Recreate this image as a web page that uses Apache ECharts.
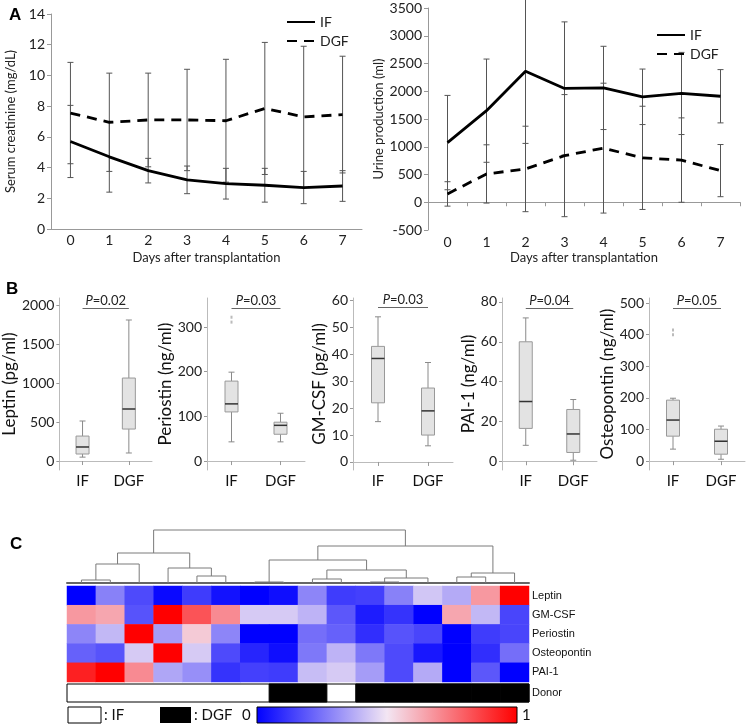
<!DOCTYPE html>
<html><head><meta charset="utf-8">
<script src="https://cdn.jsdelivr.net/npm/echarts@6/dist/echarts.min.js"></script>
<style>html,body{margin:0;padding:0;background:#fff}#c{width:748px;height:727px}</style>
</head><body><div id="c"></div>
<script>
// ---------- Panel A data ----------
const days = ['0','1','2','3','4','5','6','7'];
const creatIF = [5.7, 4.7, 3.8, 3.2, 2.95, 2.85, 2.7, 2.8];
const creatIFsd = [2.35, 2.3, 0.8, 0.9, 1.0, 1.1, 1.05, 1.0];
const creatDGF = [7.55, 6.95, 7.1, 7.1, 7.05, 7.85, 7.3, 7.45];
const creatDGFsd = [3.3, 3.2, 3.05, 3.3, 4.0, 4.3, 4.6, 3.8];
const urineIF = [1075, 1650, 2360, 2050, 2060, 1900, 1960, 1910];
const urineIFsd = [850, 930, 1300, 1200, 750, 500, 740, 480];
const urineDGF = [150, 510, 600, 840, 975, 800, 760, 570];
const urineDGFsd = [220, 525, 770, 1100, 1170, 930, 760, 470];

// ---------- Panel B data: [low whisker, Q1, median, Q3, high whisker] ----------
const bCats = ['IF', 'DGF'];
const leptinIF = [50, 90, 180, 320, 513];
const leptinDGF = [103, 410, 667, 1064, 1808];
const periostinIF = [43, 110, 128, 179, 199];
const periostinDGF = [43, 60, 80, 87, 107];
const periostinOutliers = [311, 322];
const gmcsfIF = [15, 22, 38.5, 43, 54];
const gmcsfDGF = [6, 10, 19, 27.5, 37];
const pai1IF = [8, 16.5, 30, 60, 72];
const pai1DGF = [0.5, 4.4, 13.7, 26, 31];
const osteoIF = [38, 79, 130, 193, 199];
const osteoDGF = [6, 22, 63, 101, 111];
const osteoOutliers = [400, 415];
const pValues = ['0.02', '0.03', '0.03', '0.04', '0.05'];
const leptinTicks = [0, 500, 1000, 1500, 2000];
const periostinTicks = [0, 100, 200, 300];
const gmcsfTicks = [0, 10, 20, 30, 40, 50, 60];
const pai1Ticks = [0, 20, 40, 60, 80];
const osteoTicks = [0, 100, 200, 300, 400, 500];

// ---------- Panel C data ----------
const sampleIds = ['S1','S2','S3','S4','S5','S6','S7','S8','S9','S10','S11','S12','S13','S14','S15','S16'];
const markers = ['Leptin', 'GM-CSF', 'Periostin', 'Osteopontin', 'PAI-1'];
const heatLeptin = [0.0, 0.28, 0.16, 0.02, 0.13, 0.04, 0.0, 0.03, 0.29, 0.13, 0.14, 0.28, 0.43, 0.37, 0.67, 1.0];
const heatGMCSF = [0.67, 0.64, 0.18, 1.0, 0.82, 0.70, 0.44, 0.44, 0.39, 0.19, 0.06, 0.11, 0.0, 0.64, 0.40, 0.15];
const heatPeriostin = [0.29, 0.40, 1.0, 0.34, 0.56, 0.29, 0.0, 0.0, 0.24, 0.21, 0.10, 0.18, 0.15, 0.0, 0.13, 0.15];
const heatOsteopontin = [0.21, 0.18, 0.44, 1.0, 0.44, 0.16, 0.08, 0.03, 0.26, 0.39, 0.26, 0.16, 0.05, 0.0, 0.10, 0.24];
const heatPAI1 = [0.93, 1.0, 0.70, 0.36, 0.31, 0.11, 0.14, 0.13, 0.41, 0.44, 0.34, 0.16, 0.37, 0.0, 0.19, 0.0];
const donorGroup = ['IF','IF','IF','IF','IF','IF','IF','DGF','DGF','IF','DGF','DGF','DGF','DGF','DGF','DGF'];
// dendrogram merges: [left node, right node, height]; leaves 0..15, clusters 16+
const dendroMerges = [
  [0, 1, 3], [16, 2, 19], [4, 5, 7], [3, 18, 15], [17, 19, 30],
  [6, 7, 1], [10, 11, 1], [8, 9, 4], [22, 12, 5], [23, 24, 13],
  [21, 25, 23], [13, 14, 6], [27, 15, 10], [26, 28, 37], [20, 29, 53]
];

const FONT = 'Lato, "Liberation Sans", sans-serif';
const heatColors = ['#0000ff', '#f3e6f3', '#ff0000'];
const plainNum = v => String(v);

function errRender(params, api) {
  const x = api.value(0), m = api.value(1), s = api.value(2);
  const top = api.coord([x, m + s]), bot = api.coord([x, m - s]);
  const cw = 3, st = {stroke: '#555', lineWidth: 1};
  return {type: 'group', children: [
    {type: 'line', shape: {x1: top[0], y1: top[1], x2: bot[0], y2: bot[1]}, style: st},
    {type: 'line', shape: {x1: top[0] - cw, y1: top[1], x2: top[0] + cw, y2: top[1]}, style: st},
    {type: 'line', shape: {x1: bot[0] - cw, y1: bot[1], x2: bot[0] + cw, y2: bot[1]}, style: st}
  ]};
}
function boxRender(params, api) {
  const x = api.value(0);
  const lo = api.coord([x, api.value(1)]), q1 = api.coord([x, api.value(2)]);
  const md = api.coord([x, api.value(3)]), q3 = api.coord([x, api.value(4)]);
  const hi = api.coord([x, api.value(5)]);
  const cx = lo[0], w = 13, cw = 3;
  const ws = {stroke: '#8a8a8a', lineWidth: 1};
  return {type: 'group', children: [
    {type: 'line', shape: {x1: cx, y1: hi[1], x2: cx, y2: q3[1]}, style: ws},
    {type: 'line', shape: {x1: cx, y1: q1[1], x2: cx, y2: lo[1]}, style: ws},
    {type: 'line', shape: {x1: cx - cw, y1: hi[1], x2: cx + cw, y2: hi[1]}, style: ws},
    {type: 'line', shape: {x1: cx - cw, y1: lo[1], x2: cx + cw, y2: lo[1]}, style: ws},
    {type: 'rect', shape: {x: cx - w / 2, y: q3[1], width: w, height: q1[1] - q3[1]}, style: {fill: '#e3e3e3', stroke: '#999', lineWidth: 1}},
    {type: 'line', shape: {x1: cx - w / 2, y1: md[1], x2: cx + w / 2, y2: md[1]}, style: {stroke: '#333', lineWidth: 1.5}}
  ]};
}

// dendrogram node positions from merges
const nodeX = [], nodeH = [];
sampleIds.forEach((s, i) => { nodeX.push(i + 0.5); nodeH.push(0); });
const dendroSegs = dendroMerges.map(m => {
  const seg = [nodeX[m[0]], nodeH[m[0]], nodeX[m[1]], nodeH[m[1]], m[2]];
  nodeX.push((nodeX[m[0]] + nodeX[m[1]]) / 2); nodeH.push(m[2]);
  return seg;
});
const dendroMax = Math.max(...dendroMerges.map(m => m[2]));
function dendroRender(params, api) {
  const p0 = api.coord([api.value(0), api.value(1)]);
  const p1 = api.coord([api.value(0), api.value(4)]);
  const p2 = api.coord([api.value(2), api.value(4)]);
  const p3 = api.coord([api.value(2), api.value(3)]);
  return {type: 'polyline', shape: {points: [p0, p1, p2, p3]}, style: {stroke: '#7a7a7a', lineWidth: 1, fill: null}};
}
function donorRender(params, api) {
  const c = api.coord([api.value(0), 0]);
  const s = api.size([1, 1]);
  if (api.value(1) !== 1) return null;
  return {type: 'rect', shape: {x: c[0] - s[0] / 2, y: c[1] - s[1] / 2, width: s[0], height: s[1]}, style: {fill: '#000', stroke: '#000', lineWidth: 1}};
}

const heatRows = [heatLeptin, heatGMCSF, heatPeriostin, heatOsteopontin, heatPAI1];
const heatData = [];
heatRows.forEach((row, r) => row.forEach((v, c) => heatData.push([c, r, v])));

const axisGray = {color: '#999'};
function aY(gi, min, max, interval, name) {
  return {gridIndex: gi, type: 'value', min, max, interval,
    axisLine: {show: true, lineStyle: axisGray}, axisTick: {show: true, length: 4, lineStyle: axisGray},
    splitLine: {show: false}, axisLabel: {fontSize: 14, color: '#222', margin: 6, fontFamily: FONT, formatter: plainNum},
    name, nameLocation: 'middle', nameGap: 34, nameTextStyle: {fontSize: 13, color: '#222', fontFamily: FONT}};
}
function bY(gi, min, max, ticks, name, gap) {
  return {gridIndex: gi, type: 'value', min, max,
    axisLine: {show: true, lineStyle: {color: '#bbb'}},
    axisTick: {show: true, length: 3, customValues: ticks, lineStyle: axisGray},
    axisLabel: {customValues: ticks, fontSize: 14, color: '#222', margin: 5, fontFamily: FONT, formatter: plainNum},
    splitLine: {show: false}, name, nameLocation: 'middle', nameGap: gap,
    nameTextStyle: {fontSize: 17, color: '#111', fontFamily: FONT}};
}
function bX(gi) {
  return {gridIndex: gi, type: 'category', data: bCats,
    axisLine: {show: true, lineStyle: {color: '#bbb'}},
    axisTick: {show: true, alignWithLabel: true, length: 4, lineStyle: axisGray},
    axisLabel: {fontSize: 15, color: '#111', margin: 4, fontFamily: FONT}};
}
const bPanels = [
  {ifv: leptinIF, dgf: leptinDGF, out: []},
  {ifv: periostinIF, dgf: periostinDGF, out: periostinOutliers},
  {ifv: gmcsfIF, dgf: gmcsfDGF, out: []},
  {ifv: pai1IF, dgf: pai1DGF, out: []},
  {ifv: osteoIF, dgf: osteoDGF, out: osteoOutliers}
];
const bYmax = [2090, 365, 61, 82, 516];
const pLineY = [1962, 343, 57.4, 77, 484];

const series = [
  {type: 'custom', xAxisIndex: 0, yAxisIndex: 0, renderItem: errRender, encode: {x: 0, y: 1}, z: 1, data: creatIF.map((v, i) => [i, v, creatIFsd[i]])},
  {type: 'custom', xAxisIndex: 0, yAxisIndex: 0, renderItem: errRender, encode: {x: 0, y: 1}, z: 1, data: creatDGF.map((v, i) => [i, v, creatDGFsd[i]])},
  {name: 'IF', type: 'line', xAxisIndex: 0, yAxisIndex: 0, data: creatIF, symbol: 'none', lineStyle: {color: '#000', width: 2.8}, itemStyle: {color: '#000'}, z: 3},
  {name: 'DGF', type: 'line', xAxisIndex: 0, yAxisIndex: 0, data: creatDGF, symbol: 'none', lineStyle: {color: '#000', width: 2.8, type: [10, 7]}, itemStyle: {color: '#000'}, z: 3},
  {type: 'custom', xAxisIndex: 1, yAxisIndex: 1, renderItem: errRender, encode: {x: 0, y: 1}, z: 1, data: urineIF.map((v, i) => [i, v, urineIFsd[i]])},
  {type: 'custom', xAxisIndex: 1, yAxisIndex: 1, renderItem: errRender, encode: {x: 0, y: 1}, z: 1, data: urineDGF.map((v, i) => [i, v, urineDGFsd[i]])},
  {name: 'IF', type: 'line', xAxisIndex: 1, yAxisIndex: 1, data: urineIF, symbol: 'none', lineStyle: {color: '#000', width: 2.8}, itemStyle: {color: '#000'}, z: 3},
  {name: 'DGF', type: 'line', xAxisIndex: 1, yAxisIndex: 1, data: urineDGF, symbol: 'none', lineStyle: {color: '#000', width: 2.8, type: [10, 7]}, itemStyle: {color: '#000'}, z: 3}
];
bPanels.forEach((p, k) => {
  series.push({type: 'custom', xAxisIndex: 3 + k, yAxisIndex: 2 + k, renderItem: boxRender,
    encode: {x: 0, y: [1, 2, 3, 4, 5]}, data: [[0, ...p.ifv], [1, ...p.dgf]]});
  series.push({type: 'scatter', xAxisIndex: 3 + k, yAxisIndex: 2 + k, symbol: 'rect', symbolSize: [2, 3],
    itemStyle: {color: '#aaa'}, data: p.out.map(v => [0, v]), silent: true,
    markLine: {silent: true, symbol: ['none', 'none'], lineStyle: {color: '#666', width: 1, type: 'solid'},
      label: {show: true, position: 'insideMiddleTop', distance: 1, formatter: '{i|P}=' + pValues[k], fontSize: 13, color: '#222', fontFamily: FONT,
        rich: {i: {fontStyle: 'italic', fontSize: 13, color: '#222', fontFamily: FONT}}},
      data: [[{coord: [0, pLineY[k]]}, {coord: [1, pLineY[k]]}]]}});
});
series.push({type: 'custom', xAxisIndex: 8, yAxisIndex: 7, renderItem: dendroRender, encode: {x: [0, 2], y: [1, 3, 4]}, data: dendroSegs});
series.push({type: 'heatmap', xAxisIndex: 9, yAxisIndex: 8, data: heatData, itemStyle: {borderWidth: 0}});
series.push({type: 'custom', xAxisIndex: 10, yAxisIndex: 9, renderItem: donorRender, encode: {x: 0}, data: donorGroup.map((g, i) => [i, g === 'DGF' ? 1 : 0])});
const heatSeriesIndex = series.length - 2;

const legendBase = {data: ['IF', 'DGF'], orient: 'vertical', itemWidth: 28, itemHeight: 12, itemGap: 5,
  itemStyle: {opacity: 0}, textStyle: {fontSize: 14, color: '#222', fontFamily: FONT}, selectedMode: false};

const option = {
  backgroundColor: '#fff',
  animation: false,
  textStyle: {fontFamily: FONT},
  grid: [
    {left: 51, top: 14, width: 311, height: 215},
    {left: 428, top: 8, width: 312, height: 222},
    {left: 51, top: 298, width: 101, height: 172},
    {left: 207, top: 298, width: 98, height: 172},
    {left: 353, top: 298, width: 100, height: 172},
    {left: 502, top: 298, width: 95, height: 172},
    {left: 649, top: 298, width: 96, height: 172},
    {left: 67, top: 530, width: 462, height: 53},
    {left: 67, top: 586, width: 462, height: 96},
    {left: 67, top: 684, width: 462, height: 18, show: true, borderColor: '#000', borderWidth: 1, backgroundColor: 'transparent'}
  ],
  xAxis: [
    {gridIndex: 0, type: 'category', data: days, axisLine: {lineStyle: axisGray}, axisTick: {length: 4, lineStyle: axisGray},
      axisLabel: {fontSize: 14, color: '#222', margin: 4, fontFamily: FONT},
      name: 'Days after transplantation', nameLocation: 'middle', nameGap: 22, nameTextStyle: {fontSize: 13, color: '#222', fontFamily: FONT}},
    {gridIndex: 1, type: 'category', data: days, position: 'bottom', axisLine: {show: false, onZero: false}, axisTick: {show: false},
      axisLabel: {fontSize: 14, color: '#222', margin: 5, fontFamily: FONT},
      name: 'Days after transplantation', nameLocation: 'middle', nameGap: 21, nameTextStyle: {fontSize: 13, color: '#222', fontFamily: FONT}},
    {gridIndex: 1, type: 'category', data: days, position: 'bottom', axisLine: {show: true, onZero: true, lineStyle: axisGray},
      axisTick: {show: true, length: 4, lineStyle: axisGray}, axisLabel: {show: false}},
    bX(2), bX(3), bX(4), bX(5), bX(6),
    {gridIndex: 7, type: 'value', min: 0, max: sampleIds.length, axisLine: {show: true, lineStyle: {color: '#666', width: 2}},
      axisTick: {show: false}, axisLabel: {show: false}, splitLine: {show: false}},
    {gridIndex: 8, type: 'category', data: sampleIds, show: false},
    {gridIndex: 9, type: 'category', data: sampleIds, show: false}
  ],
  yAxis: [
    aY(0, 0, 14, 2, 'Serum creatinine (mg/dL)'),
    aY(1, -500, 3500, 500, 'Urine production (ml)'),
    bY(2, -115, bYmax[0], leptinTicks, 'Leptin (pg/ml)', 31),
    bY(3, -20, bYmax[1], periostinTicks, 'Periostin (ng/ml)', 22),
    bY(4, -3, bYmax[2], gmcsfTicks, 'GM-CSF (pg/ml)', 21),
    bY(5, -4.4, bYmax[3], pai1Ticks, 'PAI-1 (ng/ml)', 22),
    bY(6, -28, bYmax[4], osteoTicks, 'Osteopontin (ng/ml)', 22),
    {gridIndex: 7, type: 'value', min: 0, max: dendroMax, show: false},
    {gridIndex: 8, type: 'category', data: markers, inverse: true, position: 'right',
      axisLine: {show: false}, axisTick: {show: false}, axisLabel: {fontSize: 11, color: '#111', margin: 3, fontFamily: '"Liberation Sans", Arial, sans-serif'}},
    {gridIndex: 9, type: 'category', data: ['Donor'], position: 'right',
      axisLine: {show: false}, axisTick: {show: false}, axisLabel: {fontSize: 11, color: '#111', margin: 3, fontFamily: '"Liberation Sans", Arial, sans-serif'}}
  ],
  legend: [
    Object.assign({}, legendBase, {left: 281, top: 10}),
    Object.assign({}, legendBase, {left: 651, top: 23})
  ],
  visualMap: {type: 'continuous', min: 0, max: 1, show: false, seriesIndex: heatSeriesIndex, inRange: {color: heatColors}},
  graphic: [
    {type: 'text', left: 9, top: 7, style: {text: 'A', font: 'bold 17px "Liberation Sans", Arial', fill: '#000'}},
    {type: 'text', left: 6, top: 281, style: {text: 'B', font: 'bold 17px "Liberation Sans", Arial', fill: '#000'}},
    {type: 'text', left: 10, top: 536, style: {text: 'C', font: 'bold 17px "Liberation Sans", Arial', fill: '#000'}},
    {type: 'rect', shape: {x: 68, y: 707, width: 33, height: 16}, style: {fill: '#fff', stroke: '#000', lineWidth: 1}},
    {type: 'text', x: 104, y: 715, style: {text: ': IF', font: '15px ' + FONT, fill: '#111', verticalAlign: 'middle'}},
    {type: 'rect', shape: {x: 160, y: 707, width: 31, height: 16}, style: {fill: '#000'}},
    {type: 'text', x: 194, y: 715, style: {text: ': DGF', font: '15px ' + FONT, fill: '#111', verticalAlign: 'middle'}},
    {type: 'text', x: 242, y: 715, style: {text: '0', font: '15px ' + FONT, fill: '#111', verticalAlign: 'middle'}},
    {type: 'rect', shape: {x: 257, y: 707, width: 260, height: 16},
      style: {stroke: '#000', lineWidth: 1, fill: {type: 'linear', x: 0, y: 0, x2: 1, y2: 0,
        colorStops: [{offset: 0, color: heatColors[0]}, {offset: 0.5, color: heatColors[1]}, {offset: 1, color: heatColors[2]}]}}},
    {type: 'text', x: 522, y: 715, style: {text: '1', font: '15px ' + FONT, fill: '#111', verticalAlign: 'middle'}}
  ],
  series
};
const chart = echarts.init(document.getElementById('c'));
chart.setOption(option);
</script></body></html>
